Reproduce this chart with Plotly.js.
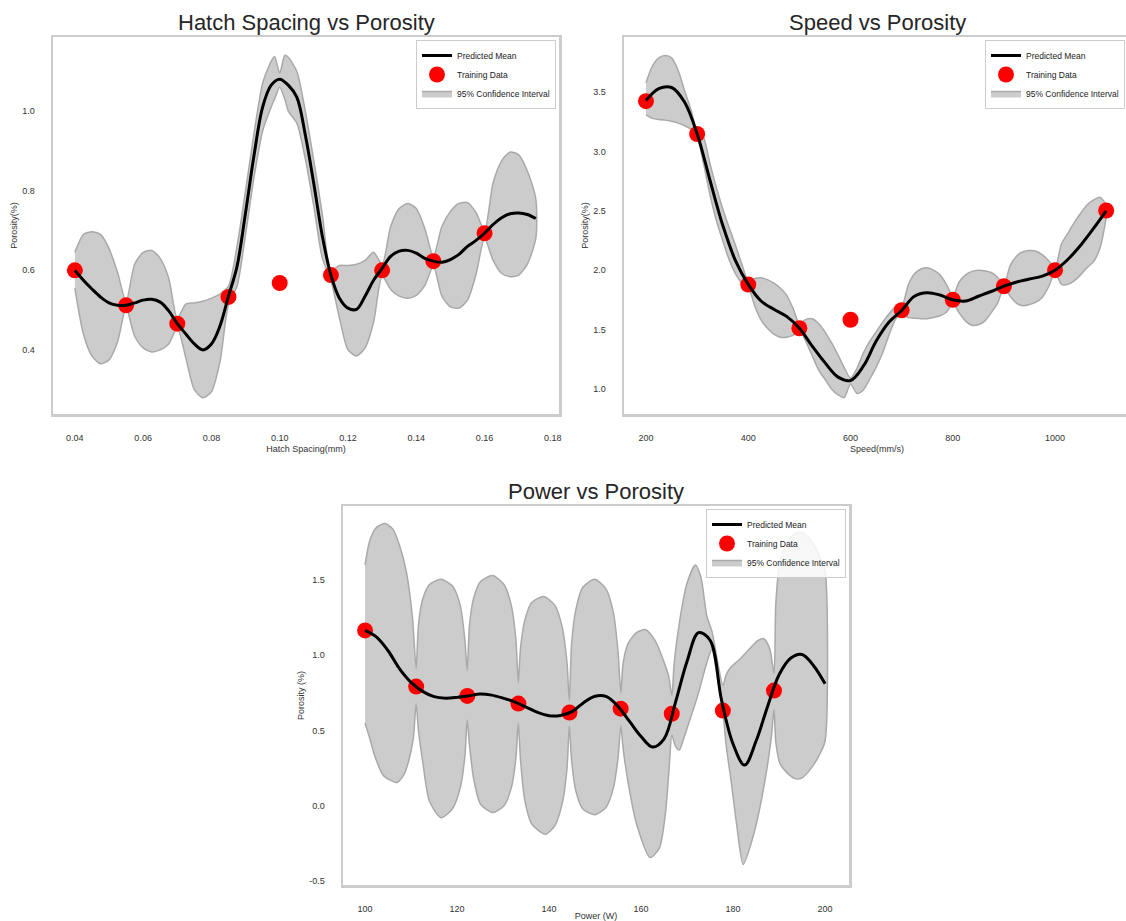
<!DOCTYPE html>
<html>
<head>
<meta charset="utf-8">
<script src="https://cdn.plot.ly/plotly-3.0.1.min.js"></script>
<style>
html,body{margin:0;padding:0;overflow:hidden;background:#fff;}
#chart{width:1160px;height:921px;}
</style>
</head>
<body>
<div id="chart"></div>
<script>
// ---------- Hatch Spacing vs Porosity ----------
const hatchTrainX = [0.04, 0.055, 0.07, 0.085, 0.10, 0.115, 0.13, 0.145, 0.16];
const hatchTrainY = [0.600, 0.512, 0.466, 0.533, 0.568, 0.588, 0.600, 0.623, 0.693];
const hatchMeanX = [0.04,0.0425,0.045,0.0475,0.05,0.0525,0.055,0.0575,0.06,0.0625,0.065,0.0675,0.07,0.0725,0.075,0.0775,0.08,0.0825,0.085,0.0875,0.09,0.0925,0.095,0.0975,0.1,0.1025,0.105,0.1075,0.11,0.1125,0.115,0.1175,0.12,0.1225,0.125,0.1275,0.13,0.1325,0.135,0.1375,0.14,0.1425,0.145,0.1475,0.15,0.1525,0.155,0.1575,0.16,0.1625,0.165,0.1675,0.17,0.1725,0.175];
const hatchMeanY = [0.600,0.575,0.553,0.533,0.518,0.512,0.512,0.518,0.525,0.527,0.520,0.498,0.466,0.440,0.415,0.400,0.415,0.46,0.535,0.61,0.745,0.89,1.01,1.065,1.08,1.065,1.035,0.94,0.817,0.685,0.588,0.53,0.505,0.502,0.535,0.575,0.605,0.635,0.648,0.65,0.643,0.63,0.623,0.62,0.627,0.64,0.66,0.675,0.693,0.715,0.732,0.742,0.744,0.74,0.73];
const hatchBandX = [0.04,0.0425,0.045,0.0475,0.05,0.0525,0.055,
  0.0575,0.06,0.0625,0.065,0.0675,0.07,
  0.0725,0.075,0.0775,0.08,0.0825,0.085,
  0.0875,0.09,0.0925,0.095,0.0975,0.0985,0.1,0.1015,0.1025,0.105,0.1075,0.11,0.1125,0.115,
  0.1175,0.12,0.1225,0.125,0.1275,0.13,
  0.1325,0.135,0.1375,0.14,0.1425,0.145,
  0.1475,0.15,0.1525,0.155,0.1575,0.16,
  0.1625,0.165,0.1675,0.17,0.1725,0.175];
const hatchUpper = [0.645,0.690,0.697,0.690,0.655,0.595,0.522,
  0.615,0.645,0.650,0.630,0.58,0.48,
  0.515,0.518,0.522,0.53,0.54,0.56,
  0.66,0.80,0.945,1.07,1.125,1.137,1.095,1.14,1.135,1.10,1.0,0.875,0.74,0.60,
  0.612,0.612,0.615,0.625,0.645,0.615,
  0.71,0.755,0.768,0.755,0.705,0.635,
  0.71,0.748,0.768,0.77,0.745,0.70,
  0.82,0.875,0.897,0.89,0.85,0.78];
const hatchLower = [0.555,0.44,0.385,0.365,0.375,0.42,0.505,
  0.435,0.405,0.395,0.40,0.415,0.455,
  0.38,0.30,0.28,0.295,0.37,0.515,
  0.56,0.69,0.835,0.95,1.01,1.03,1.06,1.03,1.0,0.97,0.88,0.76,0.63,0.575,
  0.48,0.40,0.385,0.405,0.47,0.585,
  0.552,0.535,0.530,0.537,0.562,0.61,
  0.535,0.508,0.505,0.525,0.59,0.68,
  0.625,0.592,0.584,0.588,0.615,0.68];

// ---------- Speed vs Porosity ----------
const speedTrainX = [200,300,400,500,600,700,800,900,1000,1100];
const speedTrainY = [3.425,3.148,1.878,1.51,1.582,1.662,1.75,1.864,2.0,2.503];
const speedMeanX = [200,225,250,275,300,325,350,375,400,425,450,475,500,525,550,575,600,625,650,675,700,725,750,775,800,825,850,875,900,925,950,975,1000,1025,1050,1075,1100];
const speedMeanY = [3.43,3.53,3.54,3.42,3.15,2.76,2.38,2.08,1.88,1.74,1.67,1.61,1.51,1.36,1.22,1.10,1.07,1.19,1.40,1.56,1.66,1.78,1.81,1.79,1.75,1.74,1.78,1.82,1.865,1.90,1.925,1.95,2.0,2.09,2.21,2.35,2.50];
const speedBandX = [200,212.5,225,237.5,250,262.5,275,287.5,300,312.5,325,337.5,350,362.5,375,387.5,400,412.5,425,437.5,450,462.5,475,487.5,500,512.5,525,537.5,550,562.5,575,587.5,600,612.5,625,637.5,650,662.5,675,687.5,700,712.5,725,737.5,750,762.5,775,787.5,800,812.5,825,837.5,850,862.5,875,887.5,900,912.5,925,937.5,950,962.5,975,987.5,1000,1012.5,1025,1037.5,1050,1062.5,1075,1087.5,1100];
const speedUpper = [3.58,3.72,3.79,3.81,3.79,3.69,3.52,3.36,3.17,3.12,2.90,2.70,2.52,2.36,2.21,2.05,1.91,1.93,1.935,1.92,1.89,1.85,1.79,1.68,1.55,1.585,1.59,1.55,1.48,1.39,1.29,1.18,1.09,1.17,1.30,1.40,1.48,1.56,1.63,1.69,1.69,1.87,1.97,2.01,2.02,2.0,1.96,1.88,1.78,1.90,1.96,1.99,2.0,1.995,1.98,1.94,1.88,2.04,2.12,2.155,2.165,2.16,2.13,2.08,2.02,2.22,2.31,2.40,2.48,2.55,2.59,2.615,2.55];
const speedLower = [3.31,3.28,3.27,3.265,3.255,3.24,3.22,3.19,3.13,2.90,2.64,2.42,2.25,2.09,1.97,1.89,1.86,1.70,1.58,1.51,1.46,1.435,1.435,1.45,1.49,1.40,1.28,1.16,1.08,1.0,0.95,0.925,1.04,0.96,0.99,1.08,1.18,1.30,1.45,1.58,1.64,1.60,1.595,1.59,1.59,1.60,1.615,1.645,1.72,1.64,1.57,1.535,1.54,1.57,1.64,1.72,1.85,1.78,1.72,1.70,1.71,1.73,1.77,1.86,1.98,1.88,1.88,1.91,1.96,2.02,2.07,2.18,2.45];

// ---------- Power vs Porosity ----------
const powerTrainX = [100,111.11,122.22,133.33,144.44,155.56,166.67,177.78,188.89];
const powerTrainY = [1.165,0.792,0.730,0.679,0.619,0.645,0.611,0.632,0.765];
const powerMeanX = [100,102.5,105,107.5,110,112.5,115,117.5,120,122.5,125,127.5,130,132.5,135,137.5,140,142.5,145,147.5,150,152.5,155,157.5,160,162.5,165,167.5,170,172.5,175,177.5,180,182.5,185,187.5,190,192.5,195,197.5,200];
const powerMeanY = [1.165,1.12,1.03,0.91,0.82,0.76,0.725,0.715,0.72,0.73,0.742,0.735,0.715,0.69,0.655,0.62,0.598,0.60,0.625,0.685,0.728,0.725,0.66,0.56,0.46,0.39,0.445,0.69,0.96,1.15,1.10,0.70,0.41,0.27,0.43,0.66,0.87,0.98,1.005,0.93,0.81];
const powerUpperX = [100,101,102.5,104.3,106,107.5,109,110.3,111.1,
  111.6,112.5,114,116.5,119,120.7,121.7,122.2,
  122.7,123.6,125.1,127.7,130.2,131.8,132.8,133.3,
  133.8,134.7,136.2,138.8,141.3,142.9,143.9,144.4,
  144.9,145.8,147.3,149.9,152.4,154,155,155.6,
  156.1,157.2,159,161,163,164.8,166,166.7,
  167.2,168.5,170,171.8,173,174.3,175.4,176.5,177.8,
  178.5,179.5,181.5,183.5,185.5,186.7,188,188.9,
  189.3,190.2,191.7,193.5,195,197,198.8,200];
const powerUpper = [1.60,1.76,1.85,1.875,1.84,1.73,1.55,1.25,0.91,
  1.2,1.37,1.47,1.505,1.46,1.33,1.10,0.90,
  1.2,1.38,1.49,1.53,1.47,1.33,1.10,0.82,
  1.05,1.23,1.35,1.39,1.33,1.18,0.95,0.70,
  1.08,1.30,1.45,1.505,1.44,1.28,1.02,0.75,
  0.95,1.08,1.15,1.17,1.10,0.97,0.86,0.73,
  0.95,1.25,1.48,1.60,1.52,1.26,1.16,0.98,0.80,
  0.87,0.92,0.975,1.04,1.10,1.11,1.04,0.88,
  1.35,1.62,1.75,1.81,1.815,1.76,1.66,1.56];
const powerLowerX = [100,101,102,104,106.9,108.5,109.5,110.5,111.1,
  111.6,112.5,114,116.5,119,120.7,121.7,122.2,
  122.7,123.6,125.1,127.7,130.2,131.8,132.8,133.3,
  133.8,134.7,136.2,139.2,141.3,142.9,143.9,144.4,
  144.9,145.8,147.3,149.9,152.4,154,155,155.6,
  156.1,157.2,159,162,164,165.3,166.1,166.7,
  167.4,168.3,169.2,170.7,172.1,174.3,175.4,176.5,177.8,
  178.5,179.5,180.8,182.2,184.4,186.6,188.3,188.9,
  189.3,190.2,191.7,193.5,195,197,198.8,200];
const powerLower = [0.55,0.45,0.34,0.20,0.155,0.21,0.30,0.45,0.68,
  0.50,0.30,0.03,-0.08,-0.02,0.12,0.33,0.57,
  0.40,0.18,0.01,-0.045,0.0,0.12,0.32,0.55,
  0.30,0.04,-0.12,-0.19,-0.13,0.02,0.25,0.53,
  0.30,0.10,-0.02,-0.06,-0.01,0.12,0.32,0.53,
  0.38,0.15,-0.12,-0.345,-0.28,-0.05,0.25,0.47,
  0.40,0.37,0.44,0.58,0.71,0.95,1.04,0.87,0.62,
  0.40,0.18,-0.13,-0.39,-0.20,0.11,0.45,0.64,
  0.42,0.28,0.22,0.18,0.185,0.25,0.34,0.43];

// ---------- tick labels ----------
const hatchTicks = [0.04,0.06,0.08,0.10,0.12,0.14,0.16,0.18];
const hatchYTicks = [0.4,0.6,0.8,1.0];
const speedTicks = [200,400,600,800,1000];
const speedYTicks = [1.0,1.5,2.0,2.5,3.0,3.5];
const powerTicks = [100,120,140,160,180,200];
const powerYTicks = [-0.5,0.0,0.5,1.0,1.5];

const FONT = 'Liberation Sans, Arial, sans-serif';
const BAND_FILL = '#cccccc';
const BAND_EDGE = '#a9a9a9';

function bandTrace(ux, uy, lx, ly, xa, ya, leg){
  return {
    x: ux.concat(lx.slice().reverse()),
    y: uy.concat(ly.slice().reverse()),
    type: 'scatter', mode: 'lines', fill: 'toself',
    fillcolor: BAND_FILL,
    line: {color: BAND_EDGE, width: 1.5, shape: 'spline', smoothing: 0.7},
    name: '95% Confidence Interval', legend: leg, legendrank: 3,
    xaxis: xa, yaxis: ya, hoverinfo: 'skip'
  };
}
function pointTrace(x, y, xa, ya, leg){
  return {x: x, y: y, type: 'scatter', mode: 'markers',
    marker: {color: '#ff0000', size: 16, line: {width: 0}},
    name: 'Training Data', legend: leg, legendrank: 2, xaxis: xa, yaxis: ya};
}
function meanTrace(x, y, xa, ya, leg){
  return {x: x, y: y, type: 'scatter', mode: 'lines',
    line: {color: '#000000', width: 3, shape: 'spline', smoothing: 1},
    name: 'Predicted Mean', legend: leg, legendrank: 1, xaxis: xa, yaxis: ya};
}

const data = [
  bandTrace(hatchBandX, hatchUpper, hatchBandX, hatchLower, 'x', 'y', 'legend'),
  pointTrace(hatchTrainX, hatchTrainY, 'x', 'y', 'legend'),
  meanTrace(hatchMeanX, hatchMeanY, 'x', 'y', 'legend'),
  bandTrace(speedBandX, speedUpper, speedBandX, speedLower, 'x2', 'y2', 'legend2'),
  pointTrace(speedTrainX, speedTrainY, 'x2', 'y2', 'legend2'),
  meanTrace(speedMeanX, speedMeanY, 'x2', 'y2', 'legend2'),
  bandTrace(powerUpperX, powerUpper, powerLowerX, powerLower, 'x3', 'y3', 'legend3'),
  pointTrace(powerTrainX, powerTrainY, 'x3', 'y3', 'legend3'),
  meanTrace(powerMeanX, powerMeanY, 'x3', 'y3', 'legend3')
];

const W = 1160, H = 921;
function axisBase(extra){
  return Object.assign({
    showgrid: false, zeroline: false, showline: true, mirror: true,
    linecolor: '#cccccc', linewidth: 2.5, ticks: '',
    tickfont: {family: FONT, size: 9, color: '#333333'},
    automargin: false, fixedrange: true
  }, extra);
}
function legendBox(xRightPx, yTopPx){
  return {
    x: xRightPx / W, y: 1 - yTopPx / H, xref: 'paper', yref: 'paper',
    xanchor: 'right', yanchor: 'top',
    bgcolor: 'rgba(255,255,255,0.85)', bordercolor: '#cccccc', borderwidth: 1,
    font: {family: FONT, size: 8.5, color: '#222222'},
    traceorder: 'normal', itemsizing: 'trace', tracegroupgap: 0
  };
}
function titleAnn(text, cxPx, cyPx){
  return {text: text, x: cxPx / W, y: 1 - cyPx / H, xref: 'paper', yref: 'paper',
    xanchor: 'center', yanchor: 'middle', showarrow: false,
    font: {family: FONT, size: 22, color: '#262626'}};
}

const layout = {
  width: W, height: H,
  margin: {l: 0, r: 0, t: 0, b: 0},
  paper_bgcolor: '#ffffff', plot_bgcolor: '#ffffff',
  showlegend: true,
  xaxis: axisBase({domain: [53 / W, 559 / W], range: [0.0336, 0.1818], anchor: 'y',
    tickvals: hatchTicks, ticktext: hatchTicks.map(v => v.toFixed(2)), ticklabelstandoff: 14,
    title: {text: 'Hatch Spacing(mm)', font: {family: FONT, size: 9, color: '#333333'}, standoff: 4}}),
  yaxis: axisBase({domain: [1 - 414 / H, 1 - 37 / H], range: [0.239, 1.186], anchor: 'x',
    tickvals: hatchYTicks, ticktext: hatchYTicks.map(v => v.toFixed(1)), ticklabelstandoff: 14,
    title: {text: 'Porosity(%)', font: {family: FONT, size: 9, color: '#333333'}, standoff: 3}}),
  xaxis2: axisBase({domain: [624 / W, 1130 / W], range: [157, 1146.6], anchor: 'y2',
    tickvals: speedTicks, ticktext: speedTicks.map(String), ticklabelstandoff: 14,
    title: {text: 'Speed(mm/s)', font: {family: FONT, size: 9, color: '#333333'}, standoff: 4}}),
  yaxis2: axisBase({domain: [1 - 414 / H, 1 - 37 / H], range: [0.787, 3.966], anchor: 'x2',
    tickvals: speedYTicks, ticktext: speedYTicks.map(v => v.toFixed(1)), ticklabelstandoff: 14,
    title: {text: 'Porosity(%)', font: {family: FONT, size: 9, color: '#333333'}, standoff: 3}}),
  xaxis3: axisBase({domain: [343 / W, 849 / W], range: [95.2, 205.2], anchor: 'y3',
    tickvals: powerTicks, ticktext: powerTicks.map(String), ticklabelstandoff: 14,
    title: {text: 'Power (W)', font: {family: FONT, size: 9, color: '#333333'}, standoff: 4}}),
  yaxis3: axisBase({domain: [1 - 885 / H, 1 - 506 / H], range: [-0.527, 1.992], anchor: 'x3',
    tickvals: powerYTicks, ticktext: powerYTicks.map(v => v.toFixed(1)), ticklabelstandoff: 14,
    title: {text: 'Porosity (%)', font: {family: FONT, size: 9, color: '#333333'}, standoff: 3}}),
  legend: legendBox(556, 40),
  legend2: legendBox(1125, 40),
  legend3: legendBox(846, 509),
  annotations: [
    titleAnn('Hatch Spacing vs Porosity', 306, 22),
    titleAnn('Speed vs Porosity', 877, 22),
    titleAnn('Power vs Porosity', 596, 491)
  ]
};

Plotly.newPlot('chart', data, layout, {displayModeBar: false, staticPlot: true});
</script>
</body>
</html>
